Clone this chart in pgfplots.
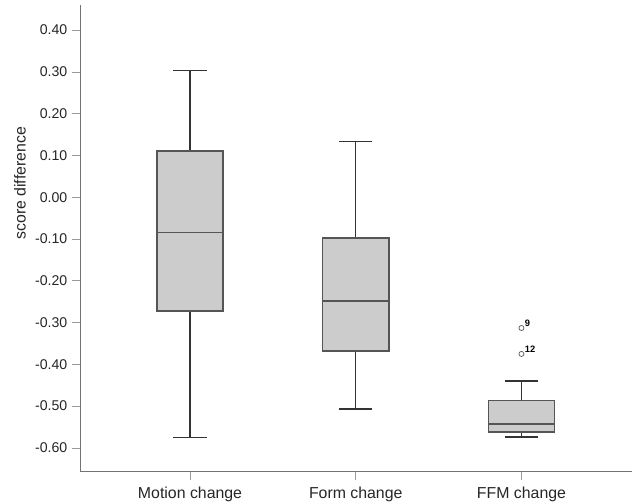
\documentclass[border=0pt]{standalone}
\usepackage{pgfplots}
\pgfplotsset{compat=1.18}
\usepgfplotslibrary{statistics}
\usepackage{fontspec}
\setmainfont{Liberation Sans}
\definecolor{boxfill}{HTML}{CCCCCC}
\definecolor{boxline}{HTML}{555555}
\begin{document}
\begin{tikzpicture}
\useasboundingbox (-60pt,-22.7pt) rectangle (417.75pt,353.8pt);
\begin{axis}[
  at={(0,0)}, anchor=south west,
  scale only axis, width=414pt, height=350pt,
  xmin=-0.664, xmax=2.667, ymin=-0.657, ymax=0.46,
  axis lines=left, axis line style={-, black!55, line width=0.6pt},
  tick align=outside, major tick length=6pt,
  tick style={black!40, line width=0.6pt},
  xtick={0,1,2}, xticklabels={Motion change, Form change, FFM change},
  ytick={-0.6,-0.5,-0.4,-0.3,-0.2,-0.1,0,0.1,0.2,0.3,0.4},
  yticklabels={-0.60,-0.50,-0.40,-0.30,-0.20,-0.10,0.00,0.10,0.20,0.30,0.40},
  yticklabel style={font=\fontsize{10.6}{12}\selectfont, text=black!85},
  xticklabel style={font=\fontsize{11.9}{14}\selectfont, text=black!85, yshift=-2pt},
  ylabel={score difference},
  every axis y label/.style={at={(axis description cs:-0.109,0.618)}, rotate=90, anchor=center, font=\fontsize{11.9}{14}\selectfont, text=black!85},
  boxplot/draw direction=y,
  boxplot/box extend=0.4, boxplot/whisker extend=0.2,
  boxplot/every median/.style={line width=1.1pt, draw=boxline},
  boxplot/every whisker/.style={line width=1.1pt, draw=black!80},
  clip=false,
]
\addplot+[boxplot prepared={draw position=0, lower whisker=-0.575, lower quartile=-0.272, median=-0.085, upper quartile=0.111, upper whisker=0.303},
  solid, draw=boxline, fill=boxfill, line width=1.1pt, mark=none] coordinates {};
\addplot+[boxplot prepared={draw position=1, lower whisker=-0.507, lower quartile=-0.368, median=-0.248, upper quartile=-0.098, upper whisker=0.133},
  solid, draw=boxline, fill=boxfill, line width=1.1pt, mark=none] coordinates {};
\addplot+[boxplot prepared={draw position=2, lower whisker=-0.574, lower quartile=-0.562, median=-0.543, upper quartile=-0.487, upper whisker=-0.44},
  solid, draw=boxline, fill=boxfill, line width=1.1pt, mark=o, mark size=1.9pt,
  mark options={draw=black!60, line width=0.6pt, fill=none}] coordinates {(2,-0.313) (2,-0.375)};
\node[anchor=south west, font=\bfseries\fontsize{7}{8}\selectfont, inner sep=0.5pt] at (axis cs:2.015,-0.313) {9};
\node[anchor=south west, font=\bfseries\fontsize{7}{8}\selectfont, inner sep=0.5pt] at (axis cs:2.015,-0.375) {12};
\end{axis}
\end{tikzpicture}
\end{document}
